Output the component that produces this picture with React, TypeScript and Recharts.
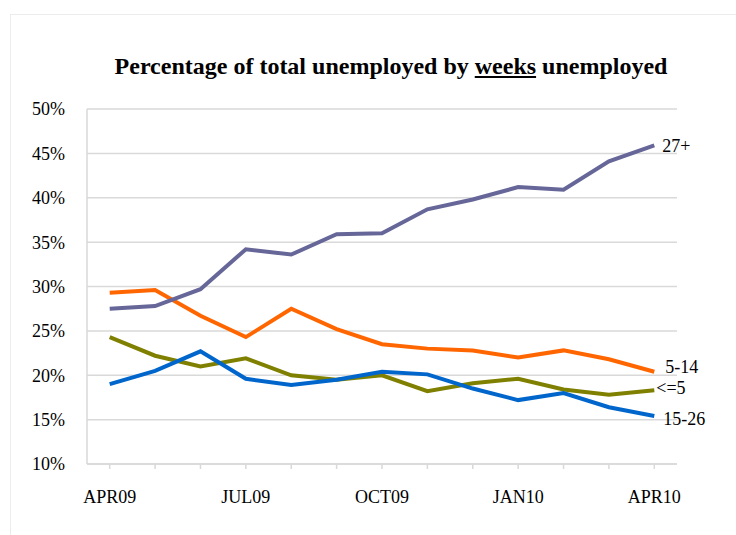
import { CartesianGrid, LineChart, Line, XAxis, YAxis } from "recharts";

const months = ["APR09", "MAY09", "JUN09", "JUL09", "AUG09", "SEP09", "OCT09", "NOV09", "DEC09", "JAN10", "FEB10", "MAR10", "APR10"];
const shownMonths = ["APR09", "JUL09", "OCT09", "JAN10", "APR10"];
const yTicks = [10, 15, 20, 25, 30, 35, 40, 45, 50];

const upTo5 = [24.3, 22.2, 21.0, 21.9, 20.0, 19.5, 20.0, 18.2, 19.1, 19.6, 18.4, 17.8, 18.3];
const weeks5to14 = [29.3, 29.6, 26.7, 24.3, 27.5, 25.2, 23.5, 23.0, 22.8, 22.0, 22.8, 21.8, 20.4];
const weeks15to26 = [19.0, 20.5, 22.7, 19.6, 18.9, 19.5, 20.4, 20.1, 18.5, 17.2, 18.0, 16.4, 15.4];
const weeks27plus = [27.5, 27.8, 29.7, 34.2, 33.6, 35.9, 36.0, 38.7, 39.8, 41.2, 40.9, 44.1, 45.9];

const data = months.map((m, i) => ({
  month: m,
  upTo5: upTo5[i],
  w5to14: weeks5to14[i],
  w15to26: weeks15to26[i],
  w27plus: weeks27plus[i]
}));

const font = '"Liberation Serif", "Times New Roman", serif';
const grid = "#d9d9d9";
const last = months.length - 1;

const series = [
  { key: "upTo5", name: "<=5", color: "#808000", dx: 2, dy: -3 },
  { key: "w5to14", name: "5-14", color: "#ff6600", dx: 11, dy: -5 },
  { key: "w15to26", name: "15-26", color: "#0066cc", dx: 9, dy: 3 },
  { key: "w27plus", name: "27+", color: "#666699", dx: 8, dy: 0 }
];

function endLabel(name: string, dx: number, dy: number) {
  return (props: any) => {
    if (props.index !== last) return <g key={props.index} />;
    return (
      <text
        key={props.index}
        x={props.x + dx}
        y={props.y + dy}
        dy="0.35em"
        fontSize={18}
        fontFamily={font}
        fill="#000"
        textAnchor="start"
      >
        {name}
      </text>
    );
  };
}

function MonthTick(props: any) {
  const { x, y, payload } = props;
  if (!shownMonths.includes(payload.value)) return <g />;
  return (
    <text x={x} y={y} dy="0.71em" textAnchor="middle" fontSize={18} fontFamily={font} fill="#000">
      {payload.value}
    </text>
  );
}

export default function App() {
  return (
    <div style={{ position: "absolute", left: 0, top: 0, width: 736, height: 535, background: "#fff", overflow: "hidden" }}>
      <div style={{ position: "absolute", left: 10, top: 14, width: 740, height: 540, border: "1px solid #ececec" }} />
      <div
        style={{
          position: "absolute",
          left: 0,
          top: 54,
          width: 782,
          textAlign: "center",
          fontFamily: font,
          fontWeight: 700,
          fontSize: 24,
          lineHeight: "24px",
          color: "#000"
        }}
      >
        Percentage of total unemployed by <u>weeks</u> unemployed
      </div>
      <LineChart
        width={736}
        height={535}
        data={data}
        margin={{ top: 109, right: 59, bottom: 41, left: 0 }}
        style={{ position: "absolute", left: 0, top: 0 }}
      >
        <CartesianGrid stroke={grid} strokeWidth={1.5} vertical={false} />
        <XAxis
          dataKey="month"
          interval={0}
          padding={{ left: 22.7, right: 22.7 }}
          height={30}
          tick={<MonthTick />}
          tickSize={5}
          tickMargin={21}
          axisLine={{ stroke: grid, strokeWidth: 1.5 }}
          tickLine={{ stroke: grid, strokeWidth: 1.5 }}
        />
        <YAxis
          width={87}
          domain={[10, 50]}
          ticks={yTicks}
          tickFormatter={(v: number) => `${v}%`}
          tick={{ fill: "#000", fontSize: 18, fontFamily: font }}
          tickLine={false}
          tickSize={0}
          tickMargin={22}
          axisLine={{ stroke: grid, strokeWidth: 1.5 }}
        />
        {series.map((s) => (
          <Line
            key={s.key}
            name={s.name}
            dataKey={s.key}
            type="linear"
            stroke={s.color}
            strokeWidth={4}
            dot={false}
            isAnimationActive={false}
            label={endLabel(s.name, s.dx, s.dy)}
          />
        ))}
      </LineChart>
    </div>
  );
}
